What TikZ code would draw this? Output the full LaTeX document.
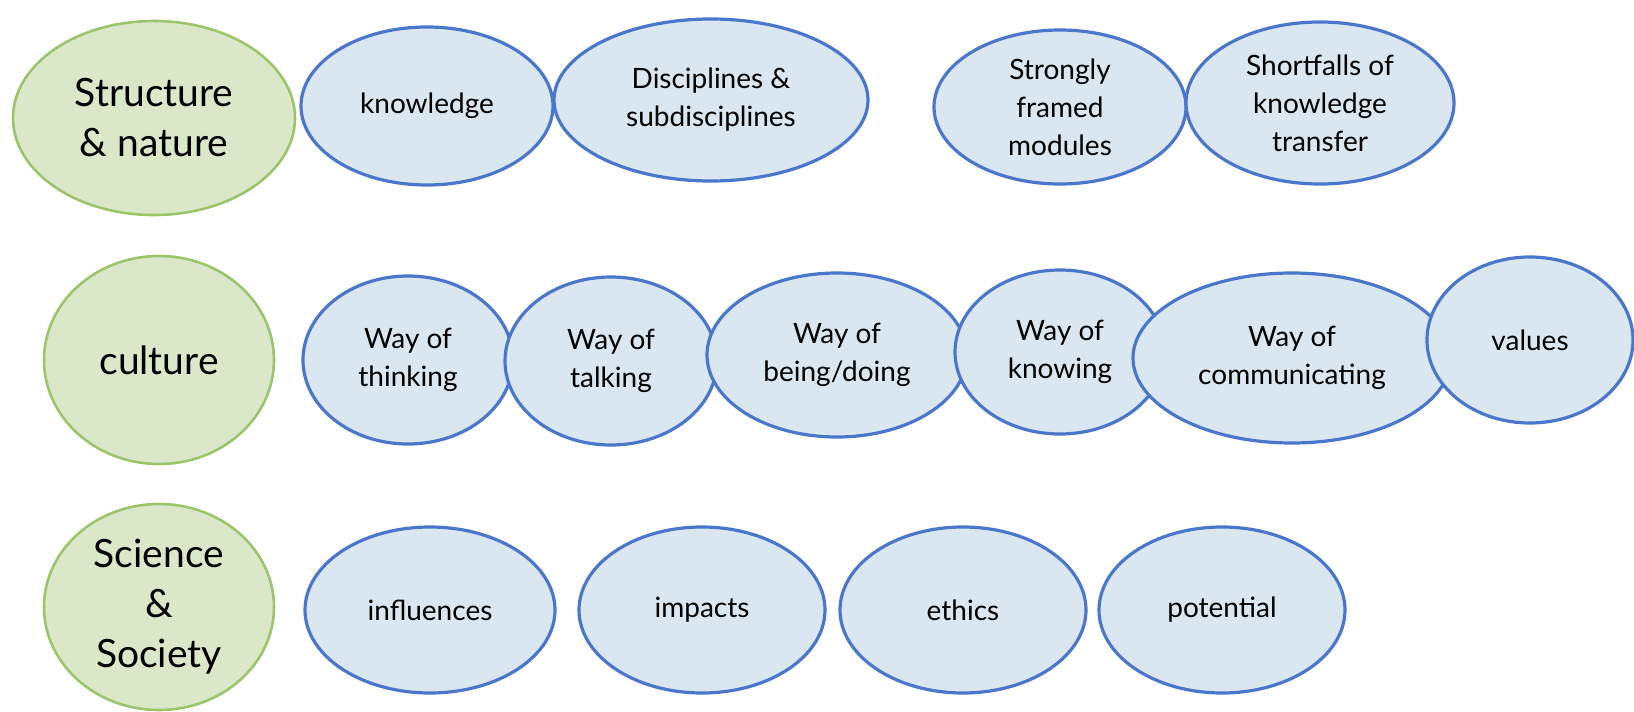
\documentclass[tikz,border=0pt]{standalone}
\usepackage{fontspec}
\setmainfont{Lato}
\usepackage{xcolor}
\usetikzlibrary{shapes.geometric}

\definecolor{topicfill}{HTML}{DAE8C9}
\definecolor{topicline}{HTML}{9CC46B}
\definecolor{facetfill}{HTML}{DAE7F1}
\definecolor{facetline}{HTML}{4A76CC}

\begin{document}
\begin{tikzpicture}[x=1pt, y=-1pt]
    % Define the style for the nodes
    \tikzstyle{topic} = [ellipse, draw=topicline, fill=topicfill, line width=2.6pt, align=center, inner sep=-15pt, font=\fontsize{39}{50}\selectfont]
    \tikzstyle{facet} = [ellipse, draw=facetline, fill=facetfill, line width=3.2pt, align=center, inner sep=-15pt, font=\fontsize{28}{38}\selectfont]

    \useasboundingbox (0,0) rectangle (1634,712);

    % Row 1: structure and nature
    \node [topic, minimum width=282, minimum height=194] (structure) at (154,118) {Structure\\\& nature};
    \node [facet, minimum width=252, minimum height=158] (knowledge) at (427,106) {knowledge};
    \node [facet, minimum width=314, minimum height=162] (disciplines) at (711,100) {Disciplines \&\\subdisciplines};
    \node [facet, minimum width=252, minimum height=154] (modules) at (1060,107) {Strongly\\framed\\modules};
    \node [facet, minimum width=268, minimum height=162] (shortfalls) at (1320,103) {Shortfalls of\\knowledge\\transfer};

    % Row 2: culture
    \node [topic, minimum width=230, minimum height=208] (culture) at (159,360) {culture};
    \node [facet, minimum width=210, minimum height=168] (thinking) at (408,360) {Way of\\thinking};
    \node [facet, minimum width=212, minimum height=168] (talking) at (611,361) {Way of\\talking};
    \node [facet, minimum width=260, minimum height=164] (being) at (837,355) {Way of\\being/doing};
    \node [facet, minimum width=210, minimum height=164] (knowing) at (1060,352) {Way of\\knowing};
    \node [facet, minimum width=318, minimum height=170] (communicating) at (1292,358) {Way of\\communicating};
    \node [facet, minimum width=206, minimum height=166] (values) at (1530,340) {values};

    % Row 3: science and society
    \node [topic, minimum width=230, minimum height=206] (society) at (159,607) {Science\\\&\\Society};
    \node [facet, minimum width=250, minimum height=166] (influences) at (430,610) {influences};
    \node [facet, minimum width=246, minimum height=166] (impacts) at (702,610) {impacts};
    \node [facet, minimum width=246, minimum height=166] (ethics) at (963,610) {ethics};
    \node [facet, minimum width=246, minimum height=166] (potential) at (1222,610) {potential};

\end{tikzpicture}
\end{document}
